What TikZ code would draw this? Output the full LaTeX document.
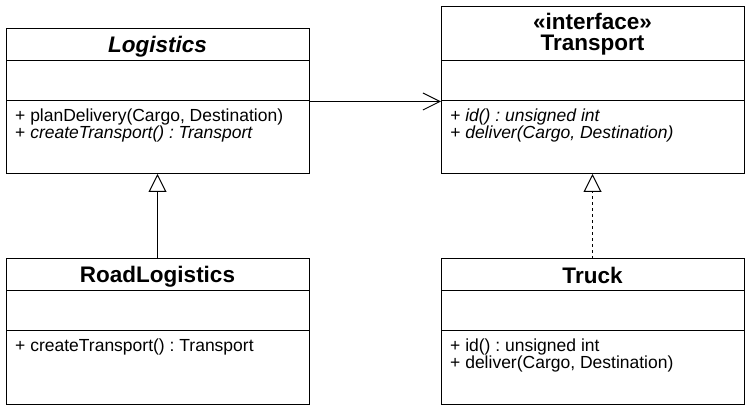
\documentclass[tikz,border=0pt]{standalone}
\usepackage{fontspec}
\setmainfont{Liberation Sans}
\usetikzlibrary{arrows.meta}
\frenchspacing
\begin{document}
\begin{tikzpicture}[x=1pt,y=-1pt,
  box/.style={draw=black, line width=1pt, rectangle, minimum width=303pt, inner sep=0pt, outer sep=0pt},
  title/.style={font=\fontsize{22.5}{24}\selectfont\bfseries, inner sep=0pt, anchor=center},
  member/.style={font=\fontsize{17.5}{18}\selectfont\frenchspacing, inner sep=0pt, anchor=west},
  divider/.style={line width=1pt},
  assoc/.style={line width=1pt, -{Straight Barb[length=17pt,width=17pt,line width=1pt]}},
  inherit/.style={line width=1pt, -{Triangle[open,length=18pt,width=18pt,line width=1pt,fill=white]}},
  realize/.style={inherit, dash pattern=on 3pt off 3pt}
]
\useasboundingbox (0,0) rectangle (752,411);
\fill[white] (0,0) rectangle (752,411);
% boxes
\node[box, minimum height=145pt] (log) at (157.5,101.5) {};
\node[box, minimum height=167pt] (tr) at (592.5,90.5) {};
\node[box, minimum height=145pt] (road) at (157.5,331.5) {};
\node[box, minimum height=145pt] (truck) at (592.5,331.5) {};
% dividers
\draw[divider] (log.west |- 0,61) -- (log.east |- 0,61);
\draw[divider] (log.west |- 0,101) -- (log.east |- 0,101);
\draw[divider] (tr.west |- 0,61) -- (tr.east |- 0,61);
\draw[divider] (tr.west |- 0,101) -- (tr.east |- 0,101);
\draw[divider] (road.west |- 0,291) -- (road.east |- 0,291);
\draw[divider] (road.west |- 0,331) -- (road.east |- 0,331);
\draw[divider] (truck.west |- 0,291) -- (truck.east |- 0,291);
\draw[divider] (truck.west |- 0,331) -- (truck.east |- 0,331);
% titles
\node[title] (logt) at (157.5,47) {\itshape Logistics};
\node[title, align=center] (trt) at (592.5,34) {«interface»\\[-3pt]Transport};
\node[title] (roadt) at (157.5,277) {RoadLogistics};
\node[title] (truckt) at (592.5,275.5) {Truck};
% members
\node[member] (logm1) at (15,117) {+ planDelivery(Cargo, Destination)};
\node[member] (logm2) at (15,134) {+ \itshape createTransport() : Transport};
\node[member] (trm1) at (450,117) {\itshape + id() : unsigned int};
\node[member] (trm2) at (450,134) {\itshape + deliver(Cargo, Destination)};
\node[member] (roadm1) at (15,347) {+ createTransport() : Transport};
\node[member] (truckm1) at (450,347) {+ id() : unsigned int};
\node[member] (truckm2) at (450,364) {+ deliver(Cargo, Destination)};
% connectors
\draw[assoc] (log.east) -- (tr.west |- log.east);
\draw[inherit] (road.north) -- (log.south);
\draw[realize] (truck.north) -- (tr.south);
\end{tikzpicture}
\end{document}
